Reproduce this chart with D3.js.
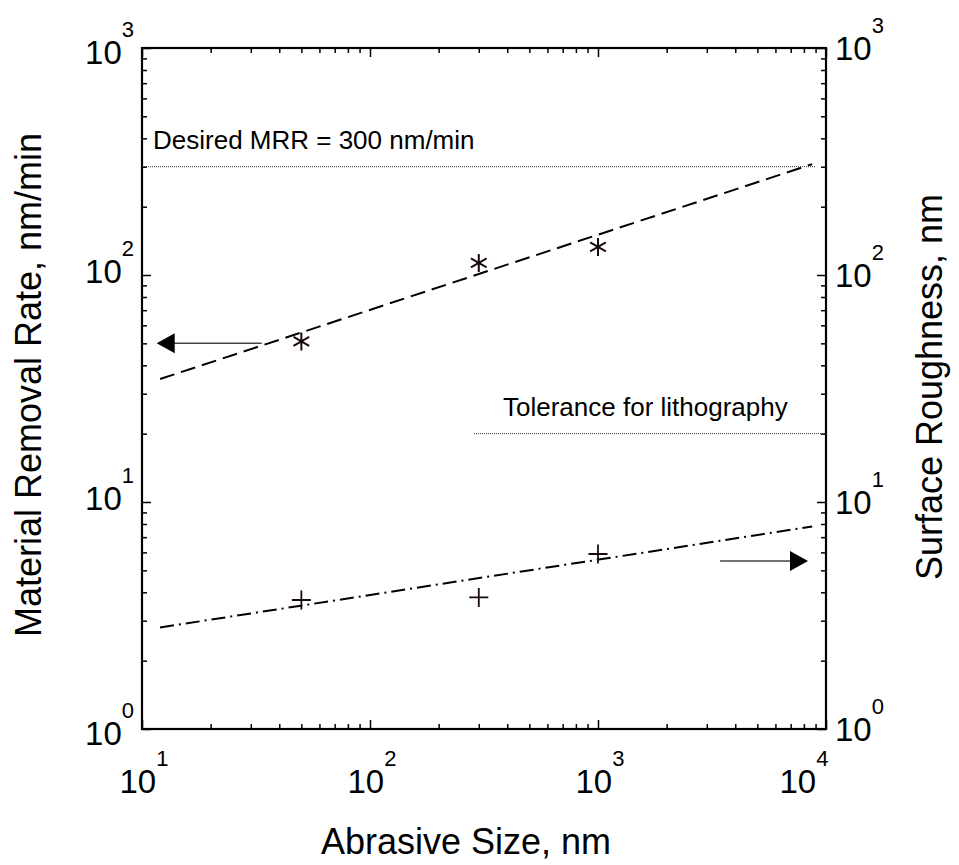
<!DOCTYPE html>
<html>
<head>
<meta charset="utf-8">
<script src="https://cdn.jsdelivr.net/npm/d3@7"></script>
<style>
  body { margin: 0; background: #fff; }
  svg { font-family: "Liberation Sans", Arial, sans-serif; }
</style>
</head>
<body>
<svg id="chart" width="959" height="865"></svg>
<script>
// abrasive size (nm) and the two measured quantities
var sizes = [50, 300, 1000];
var mrr = [51, 113, 133];           // nm/min, left axis
var roughness = [3.7, 3.8, 5.9];    // nm, right axis

// fitted trend lines (end points)
var mrrFitX = [12, 8700];
var mrrFitY = [34.8, 308];
var roughFitX = [12, 8700];
var roughFitY = [2.8, 7.8];

// reference levels
var desiredMRR = 300;
var desiredX = [10, 9000];
var tolerance = 20;
var toleranceX = [286, 10000];

// arrows pointing at the axis each series belongs to
var leftArrowX = [33.5, 11.6], leftArrowY = 50;
var rightArrowX = [3430, 8340], rightArrowY = 5.5;

var powers = [1, 2, 3, 4];        // x: 10^1 .. 10^4
var yPowers = [0, 1, 2, 3];       // y: 10^0 .. 10^3

var margin = { top: 48, left: 142, right: 133, bottom: 136 };
var width = 959 - margin.left - margin.right;
var height = 865 - margin.top - margin.bottom;

var svg = d3.select('#chart');
var g = svg.append('g')
    .attr('transform', 'translate(' + margin.left + ',' + margin.top + ')');

var x = d3.scaleLog().domain([10, 10000]).range([0, width]);
var yL = d3.scaleLog().domain([1, 1000]).range([height, 0]);
var yR = d3.scaleLog().domain([1, 1000]).range([height, 0]);

function minorTicks(scale) {
    return scale.ticks().filter(function(v) {
        var l = Math.log10(v);
        return Math.abs(l - Math.round(l)) > 1e-6;
    });
}
function majorTicks(scale) {
    return scale.ticks().filter(function(v) {
        var l = Math.log10(v);
        return Math.abs(l - Math.round(l)) < 1e-6;
    });
}

function drawAxis(axisFn, scale, transform) {
    var minor = g.append('g').attr('class', 'axis').attr('transform', transform)
        .call(axisFn(scale).tickValues(minorTicks(scale)).tickSize(-5).tickFormat(''));
    var major = g.append('g').attr('class', 'axis').attr('transform', transform)
        .call(axisFn(scale).tickValues(majorTicks(scale)).tickSize(-9).tickFormat(''));
    [minor, major].forEach(function(a) {
        a.select('.domain').remove();
        a.selectAll('line').attr('stroke', '#000').attr('stroke-width', 1.5);
    });
}
drawAxis(d3.axisBottom, x, 'translate(0,' + height + ')');
drawAxis(d3.axisTop, x, 'translate(0,0)');
drawAxis(d3.axisLeft, yL, 'translate(0,0)');
drawAxis(d3.axisRight, yR, 'translate(' + width + ',0)');

// frame
g.append('rect')
    .attr('width', width).attr('height', height)
    .attr('fill', 'none').attr('stroke', '#000').attr('stroke-width', 2.2);

// tick labels as 10 with a superscript exponent
function powLabel(sel) {
    sel.append('tspan').text('10');
    sel.append('tspan').attr('font-size', 22).attr('dy', -27).text(function(d) { return d; });
}

g.append('g').selectAll('text')
    .data(powers).enter()
    .append('text')
    .attr('x', function(d) { return x(Math.pow(10, d)) + (d === 4 ? -22 : 2); })
    .attr('y', height + 64)
    .attr('text-anchor', 'middle')
    .attr('font-size', 33)
    .call(powLabel);

g.append('g').selectAll('text')
    .data(yPowers).enter()
    .append('text')
    .attr('x', -8)
    .attr('y', function(d) { return yL(Math.pow(10, d)) + (d === 0 || d === 3 ? 16 : 8); })
    .attr('text-anchor', 'end')
    .attr('font-size', 33)
    .call(powLabel);

g.append('g').selectAll('text')
    .data(yPowers).enter()
    .append('text')
    .attr('x', width + 9)
    .attr('y', function(d) { return yR(Math.pow(10, d)) + 12; })
    .attr('text-anchor', 'start')
    .attr('font-size', 33)
    .call(powLabel);

// axis titles
svg.append('text')
    .attr('transform', 'translate(' + 41 + ',' + 385 + ') rotate(-90)')
    .attr('text-anchor', 'middle')
    .attr('font-size', 36)
    .text('Material Removal Rate, nm/min');

svg.append('text')
    .attr('transform', 'translate(' + 942 + ',' + 387 + ') rotate(-90)')
    .attr('text-anchor', 'middle')
    .attr('font-size', 36)
    .text('Surface Roughness, nm');

svg.append('text')
    .attr('x', 466).attr('y', 854)
    .attr('text-anchor', 'middle')
    .attr('font-size', 36)
    .text('Abrasive Size, nm');

// reference levels
g.append('line')
    .attr('x1', x(desiredX[0])).attr('x2', x(desiredX[1]))
    .attr('y1', yL(desiredMRR)).attr('y2', yL(desiredMRR))
    .attr('stroke', '#333').attr('stroke-width', 1).attr('stroke-dasharray', '1,1');
g.append('text')
    .attr('x', 11).attr('y', yL(desiredMRR) - 18)
    .attr('font-size', 26)
    .text('Desired MRR = 300 nm/min');

g.append('line')
    .attr('x1', x(toleranceX[0])).attr('x2', x(toleranceX[1]))
    .attr('y1', yR(tolerance)).attr('y2', yR(tolerance))
    .attr('stroke', '#333').attr('stroke-width', 1).attr('stroke-dasharray', '1,1');
g.append('text')
    .attr('x', 361).attr('y', yR(tolerance) - 18)
    .attr('font-size', 26)
    .text('Tolerance for lithography');

// fit lines
var line = d3.line();
g.append('path')
    .attr('d', line(mrrFitX.map(function(v, i) { return [x(v), yL(mrrFitY[i])]; })))
    .attr('fill', 'none').attr('stroke', '#000').attr('stroke-width', 2)
    .attr('stroke-dasharray', '15,7');
g.append('path')
    .attr('d', line(roughFitX.map(function(v, i) { return [x(v), yR(roughFitY[i])]; })))
    .attr('fill', 'none').attr('stroke', '#000').attr('stroke-width', 2)
    .attr('stroke-dasharray', '14,5,2,5');

// asterisk markers for MRR
var r = 9;
var asteriskPath = 'M0,' + (-r) + 'V' + r +
    'M' + (-r * 0.87) + ',' + (-r * 0.5) + 'L' + (r * 0.87) + ',' + (r * 0.5) +
    'M' + (-r * 0.87) + ',' + (r * 0.5) + 'L' + (r * 0.87) + ',' + (-r * 0.5);
g.append('g').selectAll('path')
    .data(sizes).enter()
    .append('path')
    .attr('transform', function(d, i) { return 'translate(' + x(d) + ',' + yL(mrr[i]) + ')'; })
    .attr('d', asteriskPath)
    .attr('fill', 'none').attr('stroke', '#1a0a0a').attr('stroke-width', 2);

// plus markers for roughness
var p = 9.5;
g.append('g').selectAll('path')
    .data(sizes).enter()
    .append('path')
    .attr('transform', function(d, i) { return 'translate(' + x(d) + ',' + yR(roughness[i]) + ')'; })
    .attr('d', 'M' + (-p) + ',0H' + p + 'M0,' + (-p) + 'V' + p)
    .attr('fill', 'none').attr('stroke', '#1a0a0a').attr('stroke-width', 1.8);

// arrows
function arrow(x0, x1, yv) {
    var dir = x1 > x0 ? 1 : -1;
    var tip = x(x1), y = yv;
    g.append('line')
        .attr('x1', x(x0)).attr('x2', tip - dir * 16)
        .attr('y1', y).attr('y2', y)
        .attr('stroke', '#444').attr('stroke-width', 1.5);
    g.append('path')
        .attr('d', 'M' + tip + ',' + y + 'L' + (tip - dir * 18) + ',' + (y - 10) +
            'L' + (tip - dir * 18) + ',' + (y + 10) + 'Z')
        .attr('fill', '#000');
}
arrow(leftArrowX[0], leftArrowX[1], yL(leftArrowY));
arrow(rightArrowX[0], rightArrowX[1], yR(rightArrowY));
</script>
</body>
</html>
